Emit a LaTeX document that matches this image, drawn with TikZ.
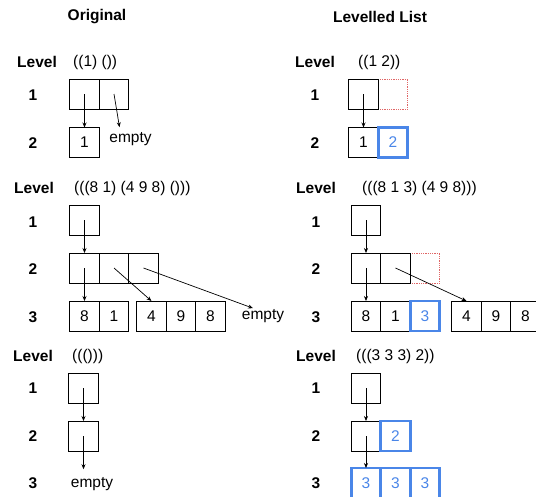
\documentclass[tikz,border=0pt]{standalone}
\usepackage{fontspec}
\setmainfont{Liberation Sans}
\usetikzlibrary{arrows.meta, positioning, calc}
\definecolor{lvBlue}{HTML}{4A86E8}
\definecolor{lvRed}{HTML}{E06666}
\tikzset{
  lvtext/.style={font=\fontsize{15.5}{18}\selectfont, inner sep=1pt},
  lvbold/.style={inner sep=1pt, font=\fontsize{15.5}{18}\selectfont\bfseries},
  cell/.style={draw, line width=0.8pt, minimum width=29.5pt, minimum height=30pt,
               inner sep=0pt, outer sep=0pt, font=\fontsize{15.5}{18}\selectfont},
  newcell/.style={cell, draw=lvBlue, text=lvBlue, line width=2.6pt},
  gapcell/.style={cell, draw=lvRed, densely dotted, line width=0.7pt},
  ptr/.style={-{Stealth[length=5pt,width=4pt]}, line width=0.7pt}
}
\begin{document}
\begin{tikzpicture}[x=1pt, y=-1pt]
  \useasboundingbox (0,0) rectangle (536,496);
  \clip (0,0) rectangle (536,496);
  % titel
  \node[lvbold] (tOrig) at (97,17) {Original};
  \node[lvbold] (tLev) at (380,17) {Levelled List};

  % blok 1: ((1) ())
  \node[lvbold] (lvA) at (37,62) {Level};
  \node[lvtext, anchor=west] (lsA) at (72,62) {((1) ())};
  \node[lvbold] (lvB) at (315,62) {Level};
  \node[lvtext, anchor=west] (lsB) at (357,62) {((1 2))};
  \foreach \n/\y in {1/95,2/143}{
    \node[lvbold] (la\n) at (33,\y) {\n};
    \node[lvbold] (lb\n) at (315,\y) {\n};
  }
  \node[cell] (a11) at (84.5,94) {};
  \node[cell] (a12) at (114,94) {};
  \node[cell] (a21) at (84.5,142.5) {1};
  \node[lvtext] (e1) at (130.5,139) {empty};
  \node[gapcell] (b12) at (393,94) {};
  \node[cell] (b11) at (363.5,94) {};
  \node[cell] (b21) at (363.5,142.5) {1};
  \node[newcell] (b22) at (393,142.5) {2};
  \draw[ptr] (a11.center) -- (a21.north);
  \draw[ptr] (a12.center) -- ($(e1.north)+(-11,-4)$);
  \draw[ptr] (b11.center) -- (b21.north);

  % blok 2: (((8 1) (4 9 8) ()))
  \node[lvbold] (lvC) at (34,188) {Level};
  \node[lvtext, anchor=west] (lsC) at (73,188) {(((8 1) (4 9 8) ()))};
  \node[lvbold] (lvD) at (316,188) {Level};
  \node[lvtext, anchor=west] (lsD) at (361,188) {(((8 1 3) (4 9 8)))};
  \foreach \n/\y in {1/222,2/269,3/317}{
    \node[lvbold] (lc\n) at (33,\y) {\n};
    \node[lvbold] (ld\n) at (316,\y) {\n};
  }
  \node[cell] (c11) at (84.5,220) {};
  \node[cell] (c21) at (84.5,268) {};
  \node[cell] (c22) at (114,268) {};
  \node[cell] (c23) at (143.5,268) {};
  \node[cell] (c31) at (84.5,316) {8};
  \node[cell] (c32) at (114,316) {1};
  \node[cell] (c33) at (151.5,316) {4};
  \node[cell] (c34) at (181,316) {9};
  \node[cell] (c35) at (210.5,316) {8};
  \node[lvtext] (e2) at (263,316) {empty};
  \draw[ptr] (c11.center) -- (c21.north);
  \draw[ptr] (c21.center) -- (c31.north);
  \draw[ptr] (c22.center) -- (c33.north);
  \draw[ptr] (c23.center) -- ($(e2.north)+(-10,0)$);
  \node[gapcell] (d23) at (425,268) {};
  \node[cell] (d11) at (366,220) {};
  \node[cell] (d21) at (366,268) {};
  \node[cell] (d22) at (395.5,268) {};
  \node[cell] (d31) at (366,316) {8};
  \node[cell] (d32) at (395.5,316) {1};
  \node[newcell] (d33) at (425,316) {3};
  \node[cell] (d34) at (466.5,316) {4};
  \node[cell] (d35) at (496,316) {9};
  \node[cell] (d36) at (525.5,316) {8};
  \draw[ptr] (d11.center) -- (d21.north);
  \draw[ptr] (d21.center) -- (d31.north);
  \draw[ptr] (d22.center) -- (d34.north);

  % blok 3: ((()))
  \node[lvbold] (lvE) at (33,356) {Level};
  \node[lvtext, anchor=west] (lsE) at (71,356) {((()))};
  \node[lvbold] (lvF) at (316,356) {Level};
  \node[lvtext, anchor=west] (lsF) at (355,356) {(((3 3 3) 2))};
  \foreach \n/\y in {1/388,2/436,3/483}{
    \node[lvbold] (le\n) at (33,\y) {\n};
    \node[lvbold] (lf\n) at (316,\y) {\n};
  }
  \node[cell] (f11) at (83.5,388) {};
  \node[cell] (f21) at (83.5,436) {};
  \node[lvtext] (e3) at (92,484) {empty};
  \draw[ptr] (f11.center) -- (f21.north);
  \draw[ptr] (f21.center) -- ($(f21.center |- e3.north)+(0,-7)$);
  \node[cell] (g11) at (366,388) {};
  \node[cell] (g21) at (366,436) {};
  \node[newcell] (g22) at (395.5,436) {2};
  \node[newcell] (g31) at (366,483) {3};
  \node[newcell] (g32) at (395.5,483) {3};
  \node[newcell] (g33) at (425,483) {3};
  \draw[ptr] (g11.center) -- (g21.north);
  \draw[ptr] (g21.center) -- (g31.north);
\end{tikzpicture}
\end{document}
